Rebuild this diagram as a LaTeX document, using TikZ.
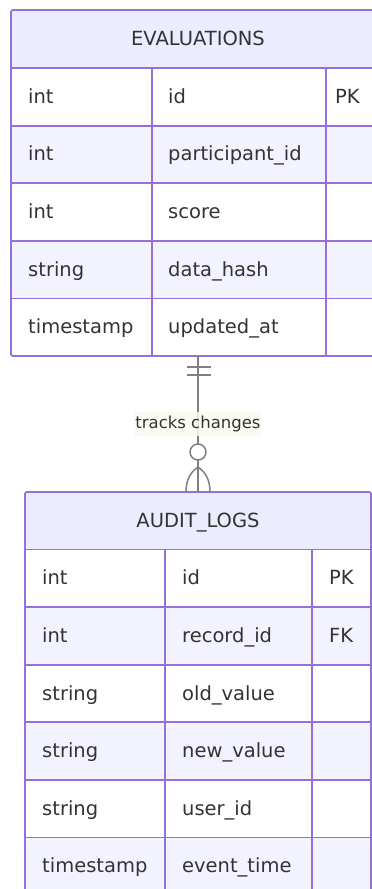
\documentclass[tikz,border=0pt]{standalone}
\usepackage{fontspec}
\setmainfont{DejaVu Sans}
\definecolor{hdrbg}{HTML}{ECECFF}
\definecolor{altbg}{HTML}{F3F3FF}
\definecolor{bordc}{HTML}{9370DB}
\definecolor{txtc}{HTML}{333333}
\definecolor{linec}{HTML}{808080}
\definecolor{lblbg}{HTML}{FBFBF2}
\tikzset{
  celltxt/.style={anchor=base west, inner sep=0pt, text=txtc, font=\fontsize{19.5}{21}\selectfont},
  hdrtxt/.style={anchor=base, inner sep=0pt, text=txtc, font=\fontsize{19.5}{21}\selectfont},
  tabline/.style={draw=bordc, line width=1.8pt},
  rel/.style={draw=linec, line width=1.5pt},
  lbl/.style={fill=lblbg, fill opacity=0.85, text opacity=1, text=txtc, inner xsep=1pt, inner ysep=4pt, font=\fontsize{16.5}{18}\selectfont}
}
\begin{document}
\begin{tikzpicture}[x=1pt,y=-1pt]
\useasboundingbox (0,0) rectangle (372,889);
\fill[white] (0,0) rectangle (372,889);

% ---------- EVALUATIONS ----------
\fill[hdrbg] (11,10) rectangle (385,68);
\foreach \i/\a/\b/\c [evaluate=\i as \yt using 68+(\i-1)*57.6, evaluate=\i as \yb using 68+\i*57.6, evaluate=\i as \ym using 68+(\i-0.5)*57.6+6.5] in
  {1/int/id/PK, 2/int/participant\_id/, 3/int/score/, 4/string/data\_hash/, 5/timestamp/updated\_at/} {
  \ifodd\i \fill[white] (11,\yt) rectangle (385,\yb); \else \fill[altbg] (11,\yt) rectangle (385,\yb); \fi
  \node[celltxt] (ev-t\i) at (28,\ym) {\a};
  \node[celltxt] (ev-n\i) at (168,\ym) {\b};
  \node[celltxt] (ev-k\i) at (335,\ym) {\c};
}
\foreach \y in {68,125.6,183.2,240.8,298.4} \draw[tabline] (11,\y) -- (385,\y);
\draw[tabline] (152,68) -- (152,356);
\draw[tabline] (326,68) -- (326,356);
\draw[tabline, rounded corners=2pt] (11,10) rectangle (385,356);
\node[hdrtxt] (evhead) at (198,45.5) {EVALUATIONS};

% ---------- AUDIT_LOGS ----------
\fill[hdrbg] (25,492) rectangle (371,549.5);
\foreach \i/\a/\b/\c [evaluate=\i as \yt using 549.5+(\i-1)*57.6, evaluate=\i as \yb using 549.5+\i*57.6, evaluate=\i as \ym using 549.5+(\i-0.5)*57.6+6.5] in
  {1/int/id/PK, 2/int/record\_id/FK, 3/string/old\_value/, 4/string/new\_value/, 5/string/user\_id/, 6/timestamp/event\_time/} {
  \ifodd\i \fill[white] (25,\yt) rectangle (371,\yb); \else \fill[altbg] (25,\yt) rectangle (371,\yb); \fi
  \node[celltxt] (au-t\i) at (42,\ym) {\a};
  \node[celltxt] (au-n\i) at (182,\ym) {\b};
  \node[celltxt] (au-k\i) at (329,\ym) {\c};
}
\foreach \y in {549.5,607.1,664.7,722.3,779.9,837.5} \draw[tabline] (25,\y) -- (371,\y);
\draw[tabline] (165,549.5) -- (165,900);
\draw[tabline] (312,549.5) -- (312,900);
\draw[tabline, rounded corners=2pt] (25,492) rectangle (371,895.1);
\node[hdrtxt] (auhead) at (198,527.5) {AUDIT\_LOGS};

% ---------- relationship ----------
\coordinate (evbot) at (198,356);
\coordinate (autop) at (198,492);
\draw[rel] (evbot) -- (autop);
\node[lbl] (rellbl) at (198,424) {tracks changes};
% exactly-one marker
\draw[rel] ([xshift=-11pt,yshift=-11pt]evbot) -- ([xshift=13pt,yshift=-11pt]evbot);
\draw[rel] ([xshift=-11pt,yshift=-19pt]evbot) -- ([xshift=13pt,yshift=-19pt]evbot);
% zero-or-many marker
\node[circle, draw=linec, line width=1.5pt, fill=white, minimum size=16pt, inner sep=0pt] (zcirc) at (198,452) {};
\draw[rel] (198,467) .. controls (189,473) and (186,482) .. (186,492);
\draw[rel] (198,467) .. controls (207,473) and (210,482) .. (210,492);
\end{tikzpicture}
\end{document}
